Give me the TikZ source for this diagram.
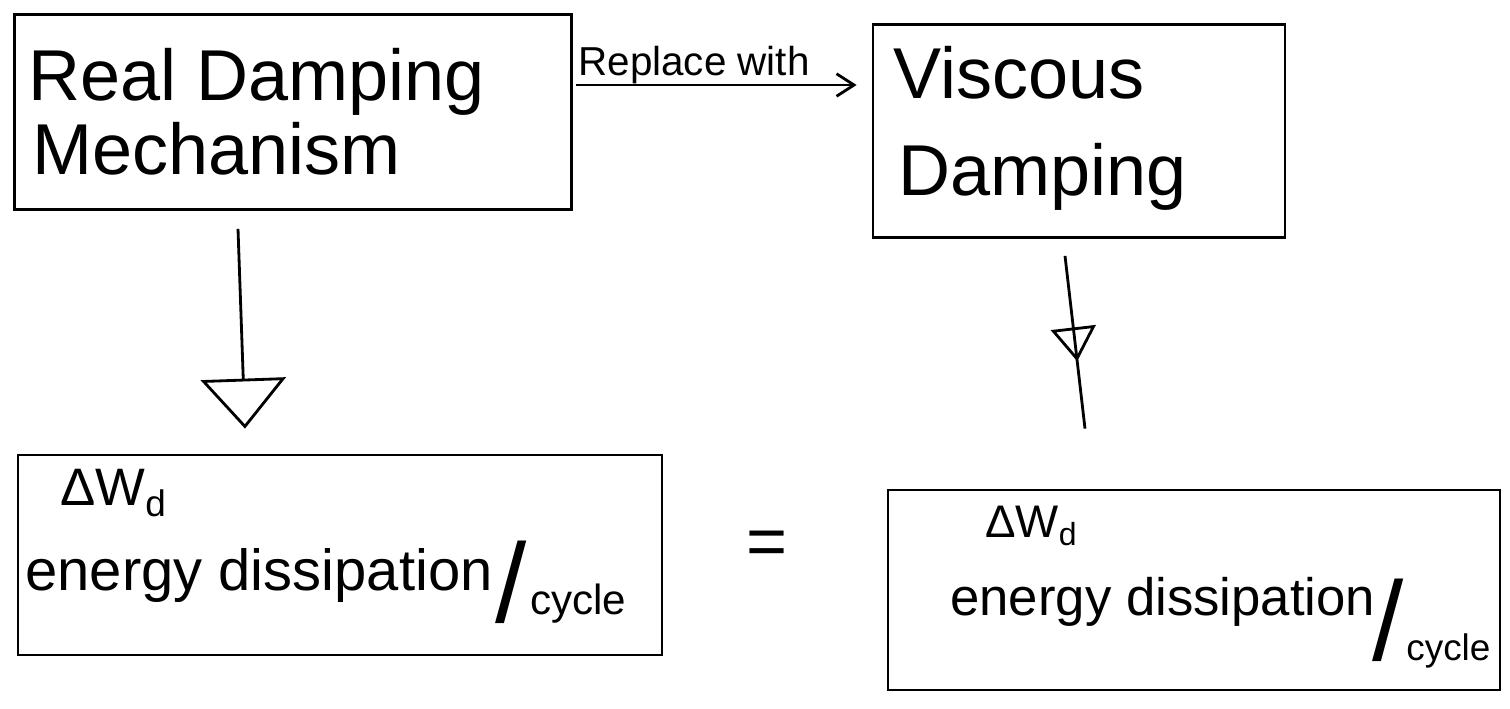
\documentclass[tikz,border=0pt]{standalone}
\usepackage{fontspec}
\setmainfont{Liberation Sans}
\usetikzlibrary{arrows.meta,calc,decorations.markings}
\begin{document}
\begin{tikzpicture}[x=0.02cm,y=-0.02cm,
  box/.style={draw,line width=1.6pt,rectangle,inner sep=0pt},
  txt/.style={anchor=base west,inner sep=0pt},
  conn/.style={line width=1.6pt},
  big/.style={font=\fontsize{41}{48}\selectfont},
  mid/.style={font=\fontsize{33}{38}\selectfont},
  midd/.style={font=\fontsize{30}{36}\selectfont},
  small/.style={font=\fontsize{23}{27}\selectfont},
  slash/.style={font=\fontsize{64}{70}\selectfont}]
\useasboundingbox (0,0) rectangle (1510,708);
% boxes
\node[box,minimum width=11.14cm,minimum height=3.9cm] (A) at (293,112) {};
\node[box,minimum width=8.24cm,minimum height=4.26cm] (B) at (1079,131) {};
\node[box,minimum width=12.88cm,minimum height=4cm] (C) at (340,555) {};
\node[box,minimum width=12.24cm,minimum height=4cm] (D) at (1194,590) {};
% texts
\node[txt,big] (a1) at (28,100) {Real Damping};
\node[txt,big] (a2) at (32,174) {Mechanism};
\node[txt,big] (b1) at (893,98) {Viscous};
\node[txt,big] (b2) at (898,195) {Damping};
\node[txt,small] (rw) at (578,75) {Replace with};
\node[txt,font=\fontsize{30}{36}\selectfont] (c1) at (60,505) {ΔW\textsubscript{d}};
\node[txt,mid] (c2) at (25,590) {energy dissipation};
\node[txt,slash] (c3) at (495,622) {/};
\node[txt,font=\fontsize{24}{28}\selectfont] (c4) at (530,614) {cycle};
\node[txt,font=\fontsize{26}{30}\selectfont] (d1) at (985,537) {ΔW\textsubscript{d}};
\node[txt,midd] (d2) at (950,615) {energy dissipation};
\node[txt,slash] (d3) at (1372,660) {/};
\node[txt,font=\fontsize{21}{25}\selectfont] (d4) at (1406,660) {cycle};
\node[inner sep=0pt,font=\fontsize{40}{44}\selectfont] (eq) at (767,548) {=};
% connectors
\draw[conn,-{Straight Barb[length=0.35cm,width=0.45cm]}] ($(A.east)+(3,-27)$) -- ($(B.west)+(-15,-46)$);
\draw[conn,-{Triangle[open,width=1.7cm,length=1cm]}] ($(A.south)+(-55,18)$) -- ($(C.north)+(-95,-25)$);
\coordinate (dend) at ($(D.north)+(-109,-60)$);
\draw[conn,postaction={decorate},decoration={markings,mark=at position 0.61 with {\arrow[line width=1.6pt]{Triangle[open,width=0.9cm,length=0.68cm]}}}] ($(B.south)+(-14,17)$) -- (dend);
\end{tikzpicture}
\end{document}
